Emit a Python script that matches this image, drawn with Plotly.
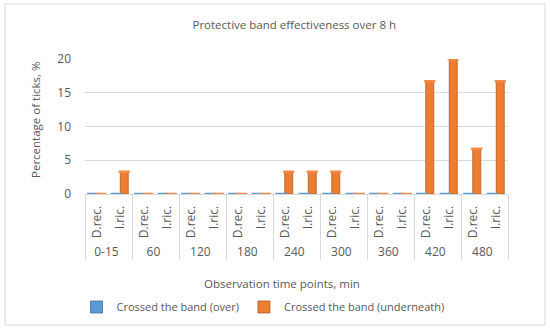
import plotly.graph_objects as go

groups = ["0-15", "60", "120", "180", "240", "300", "360", "420", "480"]
subs = ["D.rec.", "I.ric."]
over = [0, 0, 0, 0, 0, 0, 0, 0, 0, 0, 0, 0, 0, 0, 0, 0, 0, 0]
under = [0, 3.3, 0, 0, 0, 0, 0, 0, 3.3, 3.3, 3.3, 0, 0, 0, 16.7, 20, 6.7, 16.7]
y_ticks = [0, 5, 10, 15, 20]

xg = [g for g in groups for _ in subs]
xs = [s for _ in groups for s in subs]
idx = list(range(len(xg)))

FONT = "Open Sans"
TXT = "#595959"
BLUE = "#5B9BD5"
ORANGE = "#ED7D31"

L, R, T, B = 85, 508, 59, 194
W, H = R - L, B - T

def px(x):
    return (x - L) / W

def py(y):
    return (B - y) / H

fig = go.Figure()
fig.add_trace(go.Bar(x=[xg, xs], y=over, name="Crossed the band (over)",
                     marker=dict(color=BLUE, line=dict(color="#41719C", width=0.8))))
fig.add_trace(go.Bar(x=[xg, xs], y=under, name="Crossed the band (underneath)",
                     marker=dict(color=ORANGE, line=dict(color="#AE5A21", width=0.8))))
# top faces (3D look)
fig.add_trace(go.Scatter(x=[i - 0.17 for i in idx], y=over, xaxis="x2", mode="markers",
                         marker=dict(symbol="line-ew", size=8, line=dict(color=BLUE, width=2.5)),
                         showlegend=False, hoverinfo="skip"))
fig.add_trace(go.Scatter(x=[i + 0.17 for i in idx], y=under, xaxis="x2", mode="markers",
                         marker=dict(symbol="line-ew", size=8, line=dict(color="#F08A46", width=2.5)),
                         showlegend=False, hoverinfo="skip"))

fig.update_layout(
    width=550, height=333,
    margin=dict(l=L, r=550 - R, t=T, b=333 - B, autoexpand=False),
    paper_bgcolor="white", plot_bgcolor="white",
    font=dict(family=FONT, color=TXT, size=11),
    bargap=0.32, bargroupgap=0,
    title=dict(text="Protective band effectiveness over 8 h", x=0.535, xanchor="center",
               y=1 - 25 / 333, yanchor="middle", font=dict(size=11.5, color=TXT)),
    xaxis=dict(type="multicategory", tickangle=-90, showdividers=True, dividercolor="#D9D9D9",
               dividerwidth=1, showline=True, linecolor="#D9D9D9", ticks="", automargin=False,
               ticklabelstandoff=6,
               tickfont=dict(size=12, color=TXT), showgrid=False, range=[-0.5, 17.5]),
    xaxis2=dict(overlaying="x", range=[-0.5, 17.5], visible=False),
    yaxis=dict(range=[0, 20], tickvals=y_ticks, showgrid=True, gridcolor="#D9D9D9",
               zeroline=False, showline=False, ticks="", automargin=False,
               ticklabelstandoff=13, tickfont=dict(size=12, color=TXT)),
    legend=dict(orientation="h", x=px(263), xanchor="center", y=py(307), yanchor="middle",
                font=dict(size=11, color=TXT), itemwidth=30),
    showlegend=True,
)

fig.add_annotation(text="Percentage of ticks, %", textangle=-90, xref="paper", yref="paper",
                   x=px(35), y=py(120), xanchor="center", yanchor="middle",
                   showarrow=False, font=dict(size=11.5, color=TXT))
fig.add_annotation(text="Observation time points, min", xref="paper", yref="paper",
                   x=px(282), y=py(283), xanchor="center", yanchor="middle",
                   showarrow=False, font=dict(size=11.5, color=TXT))
fig.add_shape(type="rect", xref="paper", yref="paper", x0=px(5), x1=px(545), y0=py(4), y1=py(325),
              line=dict(color="#D9D9D9", width=1), layer="below")

fig.write_html("out.html", config={"displayModeBar": False},
               post_script="document.body.style.margin='0';document.body.style.overflow='hidden';")
